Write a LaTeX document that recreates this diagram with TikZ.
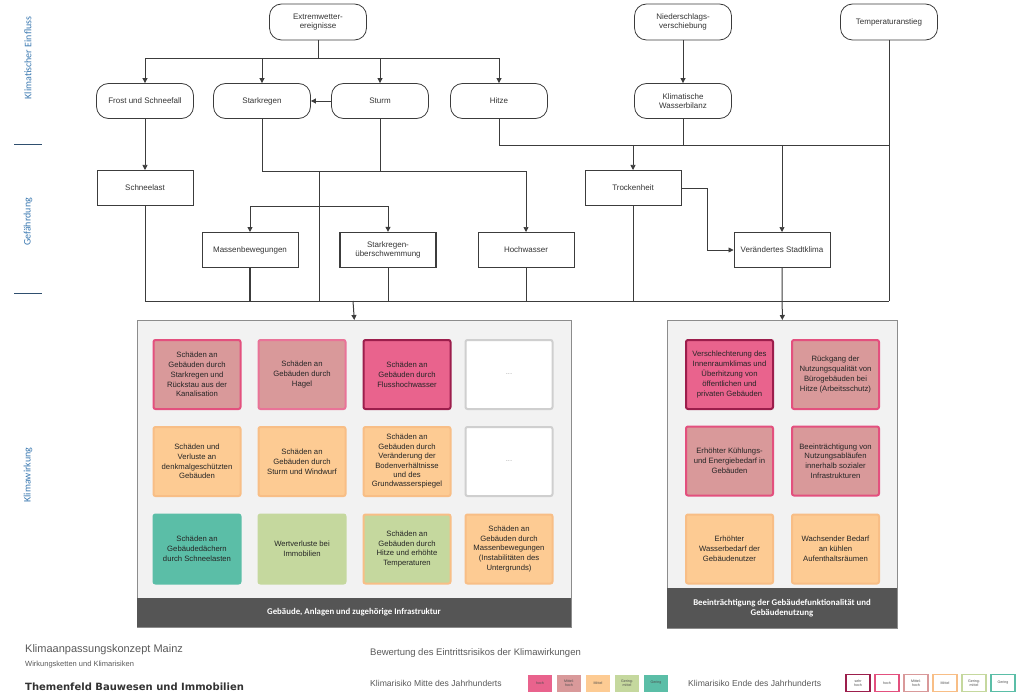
\documentclass[tikz,border=0pt]{standalone}
\usepackage{fontspec}
\setmainfont{Liberation Sans}
\newfontfamily\carl{Carlito}
\newfontfamily\dejab{DejaVu Sans}
\usetikzlibrary{arrows.meta,calc}
\definecolor{cHoch}{HTML}{E9638D}
\definecolor{cSehr}{HTML}{9C1E4C}
\definecolor{cMH}{HTML}{D9999A}
\definecolor{cHochB}{HTML}{E3507E}
\definecolor{cMit}{HTML}{FDCB93}
\definecolor{cMitB}{HTML}{F8BE86}
\definecolor{cGM}{HTML}{C5D89E}
\definecolor{cGer}{HTML}{5BBEA7}
\definecolor{lineC}{HTML}{3C3C3C}
\definecolor{sideblue}{HTML}{3A78B0}
\definecolor{sidedash}{HTML}{2F4F6F}
\definecolor{panelbg}{HTML}{F2F2F2}
\definecolor{barC}{HTML}{555555}
\definecolor{emptyB}{HTML}{CFCFCF}
\tikzset{
  flow/.style={draw=lineC, line width=0.8pt, rounded corners=12pt, minimum width=97pt, minimum height=36pt, align=center, font=\fontsize{8}{9.5}\selectfont, text=black!80, inner sep=1pt},
  pbox/.style={draw=lineC, line width=1pt, minimum width=96pt, minimum height=35pt, align=center, font=\fontsize{8}{9.5}\selectfont, text=black!80, inner sep=1pt},
  conn/.style={draw=lineC, line width=0.7pt},
  arr/.style={conn, -{Triangle[length=5pt,width=5pt]}},
  risk/.style={minimum width=87pt, minimum height=69pt, line width=2pt, rounded corners=2pt, align=center, font=\fontsize{7.7}{9.8}\selectfont, text=black!85, inner sep=1pt},
  side/.style={rotate=90, text=sideblue, font=\carl\fontsize{10}{11}\selectfont},
  sdash/.style={draw=sidedash, line width=1pt},
  panel/.style={draw=black!45, fill=panelbg, line width=0.6pt, inner sep=0, anchor=north west},
  bartext/.style={text=white, font=\carl\bfseries\fontsize{8.8}{10.5}\selectfont, align=center},
  sw/.style={minimum width=24pt, minimum height=17pt, inner sep=0, align=center, font=\fontsize{3.6}{4}\selectfont, text=black!70},
  swe/.style={sw, fill=white, line width=1.3pt},
  legtxt/.style={text=black!65, anchor=west, inner sep=0}
}
\begin{document}
\begin{tikzpicture}[x=1pt,y=-1pt]
\useasboundingbox (0,0) rectangle (1024,695);
% side labels
\node[side] (s1) at (28,58) {Klimatischer Einfluss};
\node[side] (s2) at (28,222) {Gefährdung};
\node[side] (s3) at (28,475) {Klimawirkung};
\draw[sdash] (14,145) -- (42,145);
\draw[sdash] (14,293) -- (42,293);
% top row
\node[flow] (ext) at (318,22) {Extremwetter-\\ereignisse};
\node[flow] (nieder) at (683,22) {Niederschlags-\\verschiebung};
\node[flow] (temp) at (889,22) {Temperaturanstieg};
% second row
\node[flow, minimum height=35pt] (frost) at (145,101) {Frost und Schneefall};
\node[flow, minimum height=35pt] (stark) at (262,101) {Starkregen};
\node[flow, minimum height=35pt] (sturm) at (380,101) {Sturm};
\node[flow, minimum height=35pt] (hitze) at (499,101) {Hitze};
\node[flow, minimum height=35pt] (kwb) at (683,101) {Klimatische\\Wasserbilanz};
% hazard boxes
\node[pbox] (schnee) at (145,188) {Schneelast};
\node[pbox] (trocken) at (633,188) {Trockenheit};
\node[pbox] (mass) at (250,250) {Massenbewegungen};
\node[pbox, line width=1.3pt] (sku) at (388,250) {Starkregen-\\überschwemmung};
\node[pbox] (hochw) at (526,250) {Hochwasser};
\node[pbox] (stadt) at (782,250) {Verändertes Stadtklima};
% panels
\node[panel, minimum width=434pt, minimum height=307pt] (lpanel) at (137,320) {};
\node[panel, minimum width=230pt, minimum height=308pt] (rpanel) at (667,320) {};
\fill[barC] (137,598) rectangle (571,627);
\fill[barC] (667,588) rectangle (897,628);
\node[bartext] (lbar) at (354,612) {Gebäude, Anlagen und zugehörige Infrastruktur};
\node[bartext] (rbar) at (782,608) {Beeinträchtigung der Gebäudefunktionalität und\\Gebäudenutzung};
% connectors: top
\coordinate (j1) at (318,58);
\draw[conn] (ext) -- (j1);
\draw[conn] (145,58) -- (499,58);
\draw[arr] (j1) -| (frost);
\draw[arr] (j1) -| (stark);
\draw[arr] (j1) -| (sturm);
\draw[arr] (j1) -| (hitze);
\draw[arr] (sturm) -- (stark);
\draw[arr] (nieder) -- (kwb);
% right side
\coordinate (j2) at (889,145);
\coordinate (bot) at (889,301);
\draw[conn] (temp) -- (bot);
\draw[conn] (hitze.south) |- (j2);
\draw[conn] (kwb.south) -- (683,145);
\draw[arr] (633,145) -- (trocken);
\draw[arr] (782,145) -- (stadt);
\draw[arr] (trocken.east) -- (707,188) |- (stadt.west);
\draw[conn] (trocken.south) -- (633,301);
\draw[arr, line width=1pt] (stadt.south) -- (rpanel.north);
% left side
\draw[arr] (frost) -- (schnee);
\draw[conn] (schnee.south) -- (145,301);
\coordinate (j3) at (262,171);
\draw[conn, line width=1pt] (stark.south) -- (j3);
\draw[conn] (sturm.south) -- (380,171);
\draw[arr] (j3) -| (hochw);
\draw[conn] (319,171) -- (319,301);
\coordinate (j4) at (319,206);
\draw[arr, line width=1pt] (j4) -| (mass);
\draw[arr, line width=1pt] (j4) -| (sku);
\draw[conn, line width=1.1pt] (mass.south) -- (250,301);
\draw[conn] (sku.south) -- (388,301);
\draw[conn] (hochw.south) -- (526,301);
\draw[conn] (145,301) -- (bot);
\draw[arr, line width=1pt] (353,301) -- (lpanel.north);
% left panel boxes
\node[risk, fill=cMH, draw=cHochB] (l11) at (197,374.5) {Schäden an\\Gebäuden durch\\Starkregen und\\Rückstau aus der\\Kanalisation};
\node[risk, fill=cMH, draw=cHochB!80] (l12) at (302,374.5) {Schäden an\\Gebäuden durch\\Hagel};
\node[risk, fill=cHoch, draw=cSehr] (l13) at (407,374.5) {Schäden an\\Gebäuden durch\\Flusshochwasser};
\node[risk, fill=white, draw=emptyB, text=black!35] (l14) at (509,374.5) {...};
\node[risk, fill=cMit, draw=cMitB] (l21) at (197,461.5) {Schäden und\\Verluste an\\denkmalgeschützten\\Gebäuden};
\node[risk, fill=cMit, draw=cMitB] (l22) at (302,461.5) {Schäden an\\Gebäuden durch\\Sturm und Windwurf};
\node[risk, fill=cMit, draw=cMitB, font=\fontsize{7.7}{9.4}\selectfont] (l23) at (407,461.5) {Schäden an\\Gebäuden durch\\Veränderung der\\Bodenverhältnisse\\und des\\Grundwasserspiegel};
\node[risk, fill=white, draw=emptyB, text=black!35] (l24) at (509,461.5) {...};
\node[risk, fill=cGer, draw=cGer] (l31) at (197,549) {Schäden an\\Gebäudedächern\\durch Schneelasten};
\node[risk, fill=cGM, draw=cGM] (l32) at (302,549) {Wertverluste bei\\Immobilien};
\node[risk, fill=cGM, draw=cMitB] (l33) at (407,549) {Schäden an\\Gebäuden durch\\Hitze und erhöhte\\Temperaturen};
\node[risk, fill=cMit, draw=cMitB] (l34) at (509,549) {Schäden an\\Gebäuden durch\\Massenbewegungen\\(Instabilitäten des\\Untergrunds)};
% right panel boxes
\node[risk, fill=cHoch, draw=cSehr] (r11) at (729.5,374.5) {Verschlechterung des\\Innenraumklimas und\\Überhitzung von\\öffentlichen und\\privaten Gebäuden};
\node[risk, fill=cMH, draw=cHochB] (r12) at (835.5,374.5) {Rückgang der\\Nutzungsqualität von\\Bürogebäuden bei\\Hitze (Arbeitsschutz)};
\node[risk, fill=cMH, draw=cHochB] (r21) at (729.5,461) {Erhöhter Kühlungs-\\und Energiebedarf in\\Gebäuden};
\node[risk, fill=cMH, draw=cHochB] (r22) at (835.5,461) {Beeinträchtigung von\\Nutzungsabläufen\\innerhalb sozialer\\Infrastrukturen};
\node[risk, fill=cMit, draw=cMitB] (r31) at (729.5,549) {Erhöhter\\Wasserbedarf der\\Gebäudenutzer};
\node[risk, fill=cMit, draw=cMitB] (r32) at (835.5,549) {Wachsender Bedarf\\an kühlen\\Aufenthaltsräumen};
% footer
\node[legtxt, font=\fontsize{11}{13}\selectfont] (f1) at (25,650) {Klimaanpassungskonzept Mainz};
\node[legtxt, font=\fontsize{7.5}{8.5}\selectfont] (f2) at (25,665) {Wirkungsketten und Klimarisiken};
\node[legtxt, text=black!80, font=\dejab\bfseries\fontsize{10}{12}\selectfont] (f3) at (25,687) {Themenfeld Bauwesen und Immobilien};
\node[legtxt, font=\fontsize{9.5}{11}\selectfont] (f4) at (370,653) {Bewertung des Eintrittsrisikos der Klimawirkungen};
\node[legtxt, font=\fontsize{8.6}{10}\selectfont] (f5) at (370,683) {Klimarisiko Mitte des Jahrhunderts};
\node[legtxt, font=\fontsize{8.6}{10}\selectfont] (f6) at (688,683) {Klimarisiko Ende des Jahrhunderts};
\node[sw, fill=cHoch] (m1) at (540,683) {hoch};
\node[sw, fill=cMH] (m2) at (569,683) {Mittel-\\hoch};
\node[sw, fill=cMit] (m3) at (598,683) {Mittel};
\node[sw, fill=cGM] (m4) at (627,683) {Gering-\\mittel};
\node[sw, fill=cGer] (m5) at (656,683) {Gering};
\node[swe, draw=cSehr] (e1) at (858,683) {sehr\\hoch};
\node[swe, draw=cHochB] (e2) at (887,683) {hoch};
\node[swe, draw=cMH] (e3) at (916,683) {Mittel-\\hoch};
\node[swe, draw=cMitB] (e4) at (945,683) {Mittel};
\node[swe, draw=cGM] (e5) at (974,683) {Gering-\\mittel};
\node[swe, draw=cGer] (e6) at (1003,683) {Gering};
\end{tikzpicture}
\end{document}
